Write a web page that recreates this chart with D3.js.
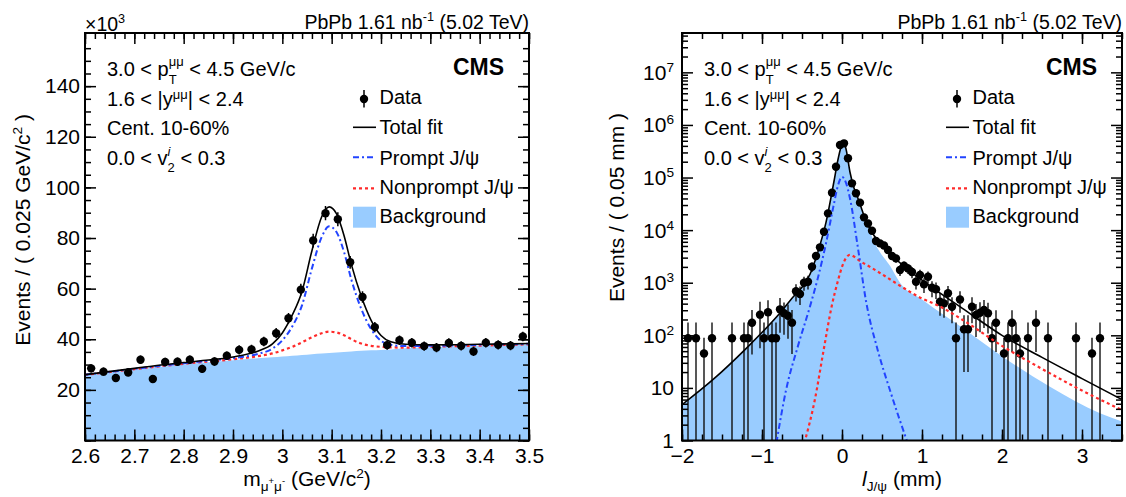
<!DOCTYPE html>
<html>
<head>
<meta charset="utf-8">
<script src="https://cdn.jsdelivr.net/npm/d3@7"></script>
<style>
  body { margin: 0; background: #fff; }
  svg { display: block; }
  text { white-space: pre; }
</style>
</head>
<body>
<div id="chart"></div>
<script>
const FONT = '"Liberation Sans", Arial, Helvetica, sans-serif';
const W = 1126, H = 497;

// ---- left panel: dimuon mass, events in units of 10^3
const massX = [2.6125, 2.6375, 2.6625, 2.6875, 2.7125, 2.7375, 2.7625, 2.7875, 2.8125, 2.8375, 2.8625, 2.8875,
  2.9125, 2.9375, 2.9625, 2.9875, 3.0125, 3.0375, 3.0625, 3.0875, 3.1125, 3.1375, 3.1625, 3.1875,
  3.2125, 3.2375, 3.2625, 3.2875, 3.3125, 3.3375, 3.3625, 3.3875, 3.4125, 3.4375, 3.4625, 3.4875];
const massY = [28.5, 27.2, 24.7, 26.9, 31.9, 24.3, 31.0, 31.1, 31.9, 28.3, 31.2, 33.5,
  35.8, 36.0, 39.1, 42.4, 48.3, 59.6, 79.0, 89.8, 87.4, 70.4, 56.7, 44.8,
  37.7, 39.6, 38.6, 37.3, 36.7, 38.5, 37.4, 35.2, 38.6, 37.8, 37.5, 41.1];
const massErr = [1.6, 1.6, 1.5, 1.6, 1.7, 1.5, 1.7, 1.7, 1.7, 1.6, 1.7, 1.7,
  1.8, 1.8, 1.9, 2.0, 2.1, 2.3, 2.7, 2.8, 2.8, 2.5, 2.3, 2.0,
  1.8, 1.9, 1.9, 1.8, 1.8, 1.9, 1.8, 1.8, 1.9, 1.8, 1.8, 1.9];

// fit curves (stacked on background)
const massFitX = [2.6, 2.7, 2.8, 2.85, 2.9, 2.95, 2.98, 3.0, 3.02, 3.04, 3.06, 3.08,
  3.095, 3.11, 3.125, 3.14, 3.16, 3.18, 3.2, 3.22, 3.25, 3.3, 3.4, 3.5];
const totalMass = [26.0, 28.5, 30.8, 31.8, 33.0, 35.3, 38.2, 42.5, 49.5, 59.0, 75.0, 88.5,
  92.3, 89.5, 81.0, 69.5, 57.0, 47.5, 41.5, 39.0, 38.0, 37.8, 38.0, 38.3];
const promptMass = [26.0, 28.3, 30.5, 31.5, 32.5, 34.2, 36.3, 39.6, 45.0, 53.5, 68.0, 80.5,
  84.6, 82.3, 74.5, 63.5, 52.0, 44.0, 39.4, 37.8, 37.3, 37.4, 37.8, 38.2];
const nonpromptMass = [25.9, 28.2, 30.3, 31.2, 32.1, 33.3, 34.4, 35.6, 37.0, 38.8, 40.8, 42.4,
  43.0, 42.7, 41.6, 40.0, 38.3, 37.4, 37.0, 36.8, 36.7, 37.0, 37.5, 38.0];
const bkgMass = [25.8, 28.0, 30.0, 30.9, 31.7, 32.5, 32.9, 33.2, 33.5, 33.8, 34.1, 34.4,
  34.6, 34.8, 35.0, 35.2, 35.5, 35.7, 35.8, 36.0, 36.4, 36.8, 37.4, 37.9];

// ---- right panel: pseudo-proper decay length
const lifeX = [-1.925, -1.825, -1.725, -1.625, -1.375, -1.225, -1.175, -1.125, -1.025, -0.975, -0.925, -0.875,
  -0.825, -0.775, -0.725, -0.675, -0.625, -0.575, -0.525, -0.475, -0.425, -0.375, -0.325, -0.275,
  -0.225, -0.175, -0.125, -0.075, -0.025, 0.025, 0.075, 0.125, 0.175, 0.225, 0.275, 0.325,
  0.375, 0.425, 0.475, 0.525, 0.575, 0.625, 0.675, 0.725, 0.775, 0.825, 0.875, 0.925,
  0.975, 1.025, 1.075, 1.125, 1.175, 1.225, 1.275, 1.325, 1.375, 1.425, 1.475, 1.525,
  1.575, 1.625, 1.675, 1.725, 1.775, 1.825, 1.875, 1.925, 2.025, 2.075, 2.125, 2.175,
  2.225, 2.325, 2.425, 2.575, 2.925, 3.125, 3.225];
const lifeY = [88, 88, 45, 88, 88, 88, 88, 173, 247, 88, 274, 88,
  88, 312, 262, 236, 174, 690, 610, 1000, 1045, 2015, 3215, 4710,
  9330, 20800, 51400, 160000, 415000, 447000, 232000, 77600, 50100, 33300, 17500, 13400,
  9700, 6200, 5600, 5100, 4200, 3230, 2900, 1740, 2100, 1870, 1600, 1045,
  1400, 930, 1300, 800, 750, 435, 405, 630, 350, 88, 480, 130,
  130, 350, 243, 269, 303, 263, 88, 173, 45, 88, 173, 88,
  45, 88, 173, 88, 88, 45, 88];
const lifeErr = [88, 88, 45, 88, 88, 88, 88, 130, 190, 88, 190, 88,
  88, 200, 160, 150, 130, 250, 235, 300, 305, 420, 540, 650,
  920, 1370, 2150, 3800, 6100, 6400, 4600, 2650, 2100, 1700, 1250, 1100,
  930, 750, 710, 680, 615, 540, 510, 400, 435, 410, 380, 305,
  355, 290, 340, 270, 260, 200, 190, 240, 180, 88, 210, 110,
  110, 180, 150, 155, 165, 155, 88, 125, 45, 88, 125, 88,
  45, 88, 125, 88, 88, 45, 88];

const totalLifeX = [-2.0, -1.6, -1.2, -0.8, -0.6, -0.5, -0.4, -0.3, -0.2, -0.1, -0.05, 0.0, 0.025,
  0.05, 0.1, 0.15, 0.2, 0.3, 0.4, 0.5, 0.6, 0.8, 1.0, 1.2, 1.5, 2.0, 2.5, 3.0, 3.5];
const totalLife = [4.8, 15, 56, 240, 560, 820, 1450, 3900, 14000, 85000, 220000, 420000, 445000,
  350000, 126000, 63000, 40000, 15000, 7900, 5200, 3600, 1900, 1120, 680, 330, 100, 38, 15, 6.0];
const bkgLifeX = [-2.0, -1.6, -1.2, -0.8, -0.6, -0.5, -0.4, -0.3, -0.2, -0.1, -0.05, 0.0, 0.025,
  0.05, 0.1, 0.15, 0.2, 0.25, 0.3, 0.35, 0.4, 0.475, 0.6, 0.725, 1.0, 1.5, 2.0, 2.6, 3.225, 3.5];
const bkgLife = [4.8, 15, 56, 240, 560, 820, 1450, 3900, 14000, 85000, 220000, 410000, 430000,
  340000, 122000, 61000, 38000, 23000, 14000, 9300, 6000, 3800, 2100, 1000, 480, 141, 40, 10.5, 3.3, 2.3];
const promptLifeX = [-0.82, -0.7, -0.55, -0.4, -0.3, -0.2, -0.1, -0.05, 0.0, 0.05, 0.1, 0.2, 0.3, 0.45, 0.6, 0.82];
const promptLife = [0.9, 9, 63, 355, 1260, 5600, 32000, 71000, 103000, 79000, 40000, 4500, 450, 50, 9, 0.9];
const npLifeX = [-0.47, -0.34, -0.23, -0.13, -0.05, 0.0, 0.05, 0.1, 0.15, 0.2, 0.35, 0.5, 0.75,
  1.0, 1.2, 1.5, 2.0, 2.5, 3.0, 3.5];
const npLife = [0.9, 5.9, 52, 350, 1100, 2000, 2950, 3400, 3150, 2750, 2000, 1450, 830,
  500, 370, 200, 63, 23, 8.9, 3.8];

const legendLabels = ['Data', 'Total fit', 'Prompt J/\u03c8', 'Nonprompt J/\u03c8', 'Background'];

const COL = { fill: '#99ccff', prompt: '#2244ff', nonprompt: '#ff2a2a' };

const svg = d3.select('#chart').append('svg')
  .attr('width', W).attr('height', H)
  .style('font-family', FONT);

// draws a run of text pieces (with sub/superscripts) and returns the group
function rich(parent, x, y, size, segs, anchor) {
  const g = parent.append('g');
  let cx = 0;
  segs.forEach(s => {
    const parts = s.stack || [s];
    let w = 0;
    parts.forEach(p => {
      const t = g.append('text')
        .attr('x', cx).attr('y', p.dy || 0)
        .attr('font-size', size * (p.s || 1))
        .attr('font-style', p.it ? 'italic' : null)
        .attr('font-weight', p.b ? 'bold' : null)
        .attr('fill', '#000')
        .text(p.t);
      w = Math.max(w, t.node().getComputedTextLength());
    });
    cx += w;
  });
  const x0 = anchor === 'end' ? x - cx : anchor === 'middle' ? x - cx / 2 : x;
  g.attr('transform', `translate(${x0},${y})`);
  return g;
}

function styleAxis(g) {
  g.attr('font-family', FONT).attr('font-size', 21);
  g.select('.domain').remove();
  g.selectAll('.tick line').attr('stroke', '#000').attr('stroke-width', 1.5);
  g.selectAll('.tick text').attr('fill', '#000');
}

function drawAxes(P, x, y, t) {
  const g = svg.append('g');
  // major + minor on all four sides, ticks pointing inward
  g.append('g').attr('transform', `translate(0,${P.y1})`)
    .call(d3.axisBottom(x).tickValues(t.xMaj).tickSize(-11).tickPadding(8).tickFormat(t.xFmt)).call(styleAxis);
  g.append('g').attr('transform', `translate(0,${P.y1})`)
    .call(d3.axisBottom(x).tickValues(t.xMin).tickSize(-6).tickFormat('')).call(styleAxis);
  g.append('g').attr('transform', `translate(0,${P.y0})`)
    .call(d3.axisTop(x).tickValues(t.xMaj).tickSize(-11).tickFormat('')).call(styleAxis);
  g.append('g').attr('transform', `translate(0,${P.y0})`)
    .call(d3.axisTop(x).tickValues(t.xMin).tickSize(-6).tickFormat('')).call(styleAxis);
  g.append('g').attr('transform', `translate(${P.x0},0)`)
    .call(d3.axisLeft(y).tickValues(t.yMaj).tickSize(-11).tickPadding(5).tickFormat(t.yFmt)).call(styleAxis);
  g.append('g').attr('transform', `translate(${P.x0},0)`)
    .call(d3.axisLeft(y).tickValues(t.yMin).tickSize(-6).tickFormat('')).call(styleAxis);
  g.append('g').attr('transform', `translate(${P.x1},0)`)
    .call(d3.axisRight(y).tickValues(t.yMaj).tickSize(-11).tickFormat('')).call(styleAxis);
  g.append('g').attr('transform', `translate(${P.x1},0)`)
    .call(d3.axisRight(y).tickValues(t.yMin).tickSize(-6).tickFormat('')).call(styleAxis);

  g.append('rect')
    .attr('x', P.x0).attr('y', P.y0)
    .attr('width', P.x1 - P.x0).attr('height', P.y1 - P.y0)
    .attr('fill', 'none').attr('stroke', '#000').attr('stroke-width', 2);
  return g;
}

function clipFor(id, P) {
  svg.append('clipPath').attr('id', id).append('rect')
    .attr('x', P.x0).attr('y', P.y0).attr('width', P.x1 - P.x0).attr('height', P.y1 - P.y0);
  return svg.append('g').attr('clip-path', `url(#${id})`);
}

const zip = (a, b) => a.map((v, i) => [v, b[i]]);

function drawLabels(P) {
  // header
  rich(svg, P.x1, 29, 19.5, [{ t: 'PbPb 1.61 nb' }, { t: '-1', s: 0.65, dy: -8 }, { t: ' (5.02 TeV)' }], 'end');

  // selection text
  const info = [
    [{ t: '3.0 < p' }, { stack: [{ t: '\u03bc\u03bc', s: 0.65, dy: -10 }, { t: 'T', s: 0.65, dy: 7.5 }] }, { t: ' < 4.5 GeV/c' }],
    [{ t: '1.6 < |y' }, { t: '\u03bc\u03bc', s: 0.65, dy: -7.5 }, { t: '| < 2.4' }],
    [{ t: 'Cent. 10-60%' }],
    [{ t: '0.0 < v' }, { stack: [{ t: 'i', s: 0.65, dy: -9, it: true }, { t: '2', s: 0.65, dy: 7 }] }, { t: ' < 0.3' }]
  ];
  const infoY = [76, 106, 135, 165];
  info.forEach((segs, i) => rich(svg, P.x0 + 22, infoY[i], 20, segs));

  rich(svg, P.x1 - 25, 75, 23, [{ t: 'CMS', b: true }], 'end');

  // legend
  const lx = P.x1 - 176, tx = P.x1 - 149.5;
  const rowY = [104, 134, 165, 194, 223];
  legendLabels.forEach((lab, i) => rich(svg, tx, rowY[i], 20, [{ t: lab }]));
  const lg = svg.append('g');
  lg.append('line').attr('x1', P.x1 - 165).attr('x2', P.x1 - 165).attr('y1', 90).attr('y2', 107.5)
    .attr('stroke', '#000').attr('stroke-width', 1.5);
  lg.append('circle').attr('cx', P.x1 - 165).attr('cy', 99).attr('r', 4.2).attr('fill', '#000');
  lg.append('line').attr('x1', lx).attr('x2', lx + 23).attr('y1', 127.3).attr('y2', 127.3)
    .attr('stroke', '#000').attr('stroke-width', 1.6);
  lg.append('line').attr('x1', lx).attr('x2', lx + 23).attr('y1', 157.3).attr('y2', 157.3)
    .attr('stroke', COL.prompt).attr('stroke-width', 2).attr('stroke-dasharray', '6,3,2,3');
  lg.append('line').attr('x1', lx).attr('x2', lx + 23).attr('y1', 188.3).attr('y2', 188.3)
    .attr('stroke', COL.nonprompt).attr('stroke-width', 2.2).attr('stroke-dasharray', '3,3');
  lg.append('rect').attr('x', lx).attr('y', 206.7).attr('width', 23).attr('height', 21).attr('fill', COL.fill);
}

// ================= left panel =================
const L = { x0: 85, x1: 529, y0: 33, y1: 440.5 };
const xL = d3.scaleLinear().domain([2.6, 3.5]).range([L.x0, L.x1]);
const yL = d3.scaleLinear().domain([0, 161]).range([L.y1, L.y0]);

const gL = clipFor('clipL', L);
gL.append('path').datum(zip(massFitX, bkgMass))
  .attr('fill', COL.fill)
  .attr('d', d3.area().x(d => xL(d[0])).y0(yL(0)).y1(d => yL(d[1])).curve(d3.curveMonotoneX));
const lineL = d3.line().x(d => xL(d[0])).y(d => yL(d[1])).curve(d3.curveMonotoneX);
gL.append('path').datum(zip(massFitX, nonpromptMass)).attr('d', lineL)
  .attr('fill', 'none').attr('stroke', COL.nonprompt).attr('stroke-width', 2.2).attr('stroke-dasharray', '3,3');
gL.append('path').datum(zip(massFitX, promptMass)).attr('d', lineL)
  .attr('fill', 'none').attr('stroke', COL.prompt).attr('stroke-width', 2).attr('stroke-dasharray', '6,3,2,3');
gL.append('path').datum(zip(massFitX, totalMass)).attr('d', lineL)
  .attr('fill', 'none').attr('stroke', '#000').attr('stroke-width', 1.6);

const ptsL = gL.append('g').selectAll('g').data(massX.map((x, i) => ({ x, y: massY[i], e: massErr[i] })))
  .enter().append('g');
ptsL.append('line')
  .attr('x1', d => xL(d.x)).attr('x2', d => xL(d.x))
  .attr('y1', d => yL(d.y - d.e)).attr('y2', d => yL(d.y + d.e))
  .attr('stroke', '#000').attr('stroke-width', 1.5);
ptsL.append('circle').attr('cx', d => xL(d.x)).attr('cy', d => yL(d.y)).attr('r', 4.2).attr('fill', '#000');

drawAxes(L, xL, yL, {
  xMaj: d3.range(26, 36).map(d => d / 10),
  xMin: d3.range(130, 176).map(d => d / 50),
  xFmt: d => String(+d.toFixed(1)),
  yMaj: d3.range(0, 160, 20),
  yMin: d3.range(0, 160, 5),
  yFmt: d => d === 0 ? '' : String(d)
});

rich(svg, L.x0, 31, 19.5, [{ t: '\u00d710' }, { t: '3', s: 0.65, dy: -8 }]);

const ytL = svg.append('g').attr('transform', `translate(30,114) rotate(-90)`);
rich(ytL, 0, 0, 21, [{ t: 'Events / ( 0.025 GeV/c' }, { t: '2', s: 0.65, dy: -8 }, { t: ' )' }], 'end');
rich(svg, (L.x0 + L.x1) / 2, 486, 21, [
  { t: 'm' }, { t: '\u03bc', s: 0.65, dy: 5 }, { t: '+', s: 0.45, dy: -2 },
  { t: '\u03bc', s: 0.65, dy: 5 }, { t: '-', s: 0.45, dy: -2 },
  { t: ' (GeV/c' }, { t: '2', s: 0.65, dy: -8 }, { t: ')' }
], 'middle');
drawLabels(L);

// ================= right panel =================
const R = { x0: 682, x1: 1122, y0: 33, y1: 440.5 };
const xR = d3.scaleLinear().domain([-2, 3.5]).range([R.x0, R.x1]);
const yR = d3.scaleLog().domain([1, 5.6e7]).range([R.y1, R.y0]);

const gR = clipFor('clipR', R);
gR.append('path').datum(zip(bkgLifeX, bkgLife))
  .attr('fill', COL.fill)
  .attr('d', d3.area().x(d => xR(d[0])).y0(R.y1).y1(d => yR(d[1])).curve(d3.curveMonotoneX));
const lineR = d3.line().x(d => xR(d[0])).y(d => yR(d[1])).curve(d3.curveMonotoneX);

const ptsR = gR.append('g').selectAll('g').data(lifeX.map((x, i) => ({ x, y: lifeY[i], e: lifeErr[i] })))
  .enter().append('g');
ptsR.append('line')
  .attr('x1', d => xR(d.x)).attr('x2', d => xR(d.x))
  .attr('y1', d => d.y - d.e > 0.01 ? yR(d.y - d.e) : R.y1).attr('y2', d => yR(d.y + d.e))
  .attr('stroke', '#111').attr('stroke-width', 1.4);

gR.append('path').datum(zip(npLifeX, npLife)).attr('d', lineR)
  .attr('fill', 'none').attr('stroke', COL.nonprompt).attr('stroke-width', 2.2).attr('stroke-dasharray', '3,3');
gR.append('path').datum(zip(promptLifeX, promptLife)).attr('d', lineR)
  .attr('fill', 'none').attr('stroke', COL.prompt).attr('stroke-width', 2).attr('stroke-dasharray', '6,3,2,3');
gR.append('path').datum(zip(totalLifeX, totalLife)).attr('d', lineR)
  .attr('fill', 'none').attr('stroke', '#000').attr('stroke-width', 1.6);

ptsR.append('circle').attr('cx', d => xR(d.x)).attr('cy', d => yR(d.y)).attr('r', 4.2).attr('fill', '#000');

const decades = d3.range(0, 8).map(e => Math.pow(10, e));
const logMinor = [];
d3.range(0, 8).forEach(e => d3.range(2, 10).forEach(m => {
  const v = m * Math.pow(10, e);
  if (v < 5.6e7) logMinor.push(v);
}));
drawAxes(R, xR, yR, {
  xMaj: [-2, -1, 0, 1, 2, 3],
  xMin: d3.range(-8, 15).map(d => d / 4),
  xFmt: d3.format('d'),
  yMaj: decades,
  yMin: logMinor,
  yFmt: () => ''
});
decades.forEach(v => {
  const e = Math.round(Math.log10(v));
  const segs = e === 0 ? [{ t: '1' }] : e === 1 ? [{ t: '10' }] : [{ t: '10' }, { t: String(e), s: 0.65, dy: -8 }];
  rich(svg, 674, yR(v) + 7.5, 21, segs, 'end');
});

const ytR = svg.append('g').attr('transform', `translate(624,113) rotate(-90)`);
rich(ytR, 0, 0, 21, [{ t: 'Events / ( 0.05 mm )' }], 'end');
rich(svg, (R.x0 + R.x1) / 2, 486, 21, [
  { t: 'l', it: true }, { t: 'J/\u03c8', s: 0.65, dy: 5 }, { t: ' (mm)' }
], 'middle');
drawLabels(R);
</script>
</body>
</html>
